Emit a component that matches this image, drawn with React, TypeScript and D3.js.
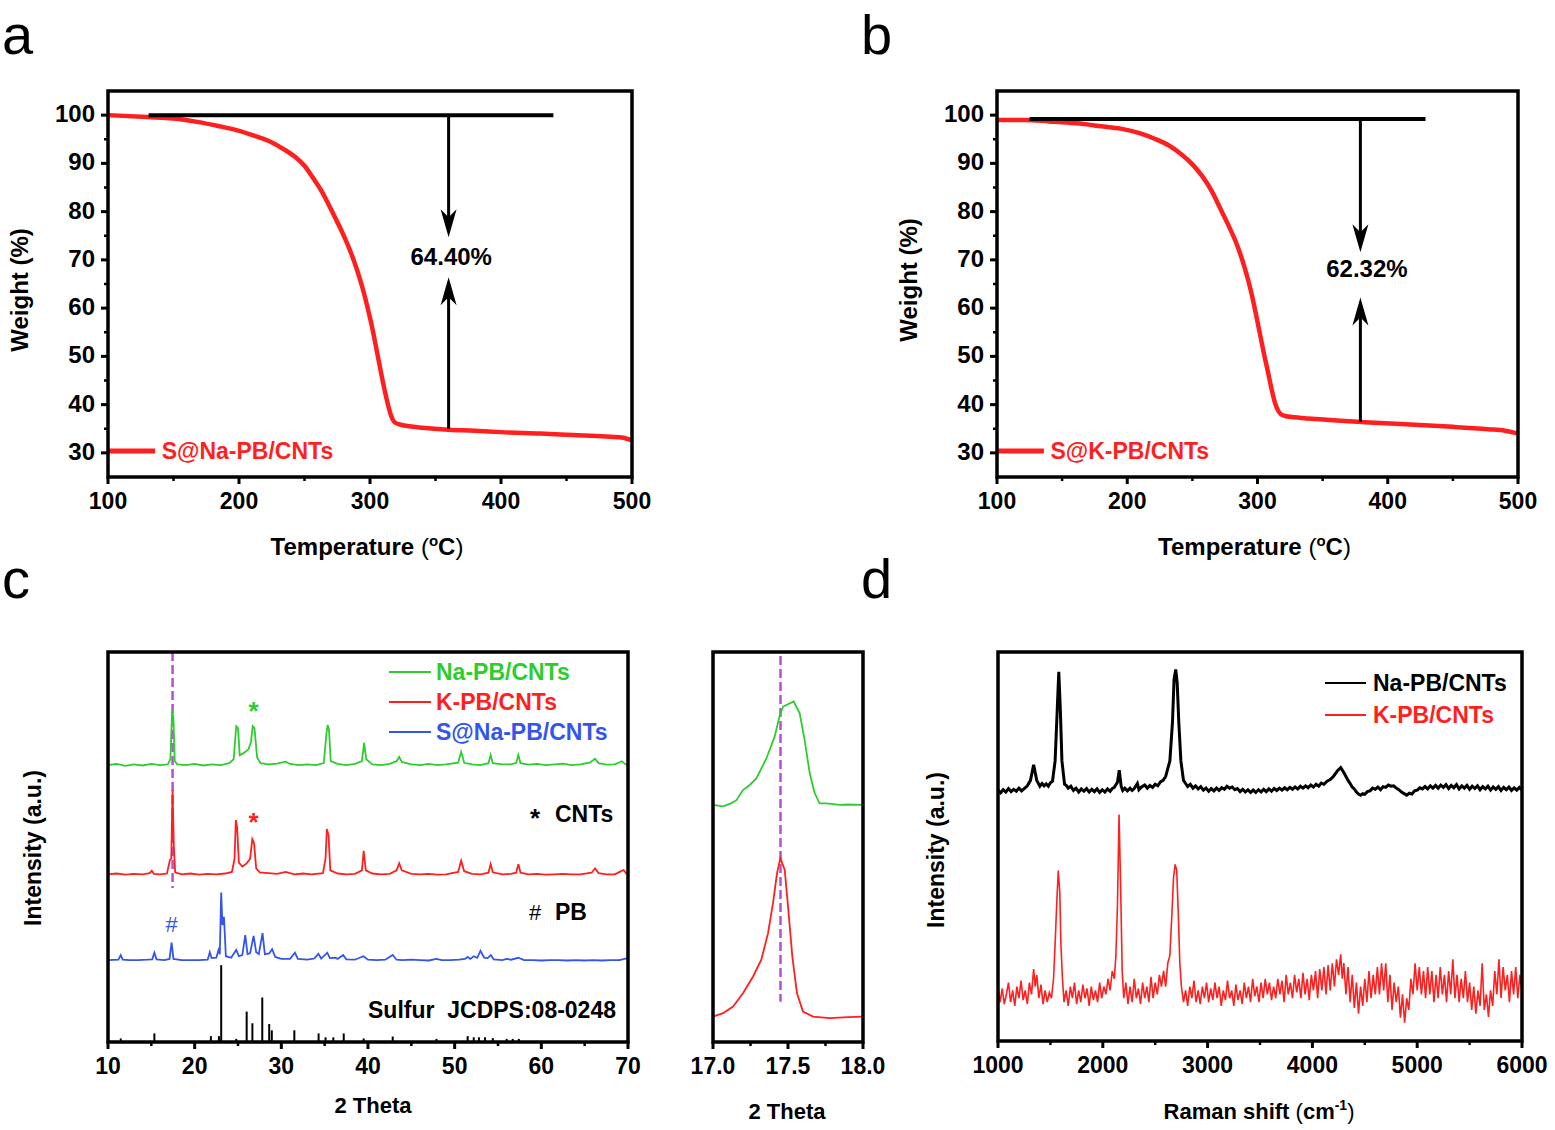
import React from "react";
import * as d3 from "d3";

// ---------- TGA (panels a, b) ----------
const tgaTempA = [100, 130, 150, 168, 185, 198, 212, 224, 235, 243, 250, 256, 264, 272, 279, 285, 290, 295, 298, 301, 304, 307, 310, 313, 316, 319, 324, 330, 340, 360, 380, 400, 430, 455, 480, 492, 500];
const tgaWeightA = [100, 99.6, 99.3, 98.6, 97.7, 96.9, 95.7, 94.5, 92.8, 91.3, 89.5, 87.2, 83.8, 79.5, 75.6, 71.8, 68, 63.5, 60.3, 56.8, 52.8, 48.6, 44.5, 40.8, 37.8, 36.3, 35.8, 35.5, 35.2, 34.8, 34.6, 34.3, 34, 33.7, 33.4, 33.2, 32.6];
const tgaTempB = [100, 121, 140, 161, 180, 195, 210, 221, 232, 241, 250, 258, 265, 271, 278, 284, 290, 295, 299, 302, 305, 308, 311, 313, 315, 318, 322, 328, 345, 361, 380, 394, 410, 428, 450, 477, 490, 500];
const tgaWeightB = [99, 99, 98.7, 98.3, 97.7, 97.2, 96.2, 95.1, 93.7, 92, 89.8, 87.2, 84.2, 80.9, 77, 73.3, 68.5, 63.5, 58.5, 54.5, 50.5, 46.8, 43, 40.8, 39.2, 38, 37.6, 37.4, 37, 36.7, 36.4, 36.2, 36, 35.75, 35.4, 34.9, 34.6, 34];
const tgaNames = ["S@Na-PB/CNTs", "S@K-PB/CNTs"];
const lossLabels = ["64.40%", "62.32%"];
// [refStart, refEnd, refLevel, arrowX, downTip, upFrom, upTip, labelX, labelY]
const lossMarkA = [131, 440, 100, 360, 74.7, 35, 66.4, 362, 70.5];
const lossMarkB = [125, 429, 99.2, 379, 71.6, 36.4, 62.2, 384, 68.1];
const tgaXTicks = [100, 200, 300, 400, 500];
const tgaXMinor = [150, 250, 350, 450];
const tgaYTicks = [30, 40, 50, 60, 70, 80, 90, 100];
const tgaYMinor = [35, 45, 55, 65, 75, 85, 95];

// ---------- XRD (panel c) ----------
const xrdGreen: [number, number][] = [[10,71],[11,71.3],[12,70.8],[13,71.2],[14,70.9],[15,71.3],[16,71],[16.9,71.2],[17.2,72.5],[17.4,85],[17.55,83],[17.7,72],[18,71.2],[19,71],[20,71.3],[21,70.9],[22,71.2],[23,71],[24,71.5],[24.5,72.5],[24.8,81],[25.0,80.5],[25.2,73.5],[25.6,74],[26.2,75],[26.5,77],[26.7,81],[26.9,80.5],[27.2,73],[27.6,71.5],[28.5,71.2],[29.5,71.4],[30.5,71.9],[31,71.3],[32,71],[33,71.2],[34,71],[34.9,71.5],[35.2,79],[35.35,81.3],[35.5,80],[35.7,72],[36.5,71.3],[37.5,71],[38.5,71.3],[39.3,72],[39.55,76.7],[39.8,72.5],[40.5,71.2],[41.5,71],[42.5,71.3],[43.3,72],[43.6,73.1],[43.9,71.8],[45,71.2],[46,71],[47,71.3],[48,71],[49,71.2],[50.4,71.6],[50.75,74.4],[51.1,71.6],[52,71.2],[53,71],[53.9,71.5],[54.15,73.6],[54.4,71.5],[55.5,71.2],[56.5,71.2],[57.1,71.6],[57.35,73.6],[57.6,71.5],[58.5,71.1],[59.5,71.3],[60.5,71],[61.5,71.2],[62.5,71.4],[63.5,71],[64.5,71.2],[65.6,71.6],[66.2,72.6],[66.6,71.5],[67.5,71.1],[68.5,71.2],[69.3,72],[69.7,71.2],[70,71]];
const xrdRed: [number, number][] = [[10,43],[11,43.2],[12,42.9],[13,43.1],[14,43],[14.8,43.3],[15.05,43.9],[15.3,43.1],[16,43],[16.8,43.2],[17.15,46.7],[17.3,47],[17.45,64.6],[17.6,50],[17.75,43.5],[18.5,43],[19.5,43.2],[20.5,42.9],[21.5,43.1],[22.5,43],[23.5,43.2],[24.3,43.6],[24.6,47],[24.75,56.9],[24.9,55],[25.1,46],[25.5,45],[26,45.8],[26.4,47],[26.65,52],[26.85,51],[27.1,44.5],[27.5,43.5],[28.5,43.3],[29.5,43.1],[30.5,43.6],[31.5,43],[32.5,43.2],[33.5,43],[34.8,43.3],[35.1,47],[35.25,54.6],[35.45,53],[35.65,44],[36.5,43.2],[37.5,43],[38.5,43.1],[39.3,44],[39.5,49],[39.75,44],[40.5,43.2],[41.5,43],[42.5,43.1],[43.3,44],[43.6,45.8],[43.9,44],[45,43.1],[46,43],[47,43.1],[48,42.9],[49,43],[50.4,43.6],[50.75,46.5],[51.1,43.8],[52,43.1],[53,43],[53.9,43.4],[54.15,45.6],[54.4,43.5],[55.5,43],[56.5,43.1],[57.1,43.4],[57.35,45.6],[57.6,43.4],[58.5,43],[59.5,43.1],[60.5,42.9],[61.5,43],[62.5,43.1],[63.5,43],[64.5,43],[65.8,43.4],[66.2,44.5],[66.6,43.3],[67.5,43],[68.5,43],[69.2,43.8],[69.5,44.1],[69.8,43.2],[70,43]];
const xrdBlue: [number, number][] = [[10,21],[11.2,21.1],[11.47,22.3],[11.7,21.1],[12.5,21],[13.5,21],[14.5,21.1],[15.1,21.2],[15.35,22.9],[15.6,21.2],[16.5,21],[17.1,21.3],[17.34,25.5],[17.55,21.3],[18.5,21],[19.5,21],[20.5,21],[21.5,21.1],[21.75,23],[21.95,21.5],[22.5,21.6],[22.75,23.6],[22.9,22.5],[23.06,38.3],[23.2,30],[23.38,32.1],[23.6,22],[24.2,21.6],[24.8,23.6],[25.1,22],[25.5,22.3],[25.84,27.4],[26.1,22.5],[26.4,22.8],[26.8,27.2],[27.1,23],[27.4,22.5],[27.83,27.9],[28.1,22.5],[28.6,22.7],[28.94,23.8],[29.3,21.8],[30,21.3],[31,21.3],[31.57,22.9],[31.9,21.3],[33,21.1],[33.8,21.4],[34.27,22.6],[34.6,21.4],[35.3,22.9],[35.6,21.5],[36.2,21.6],[36.5,21.3],[37.13,22.3],[37.5,21.2],[38.5,21.1],[39.47,22],[40,21.1],[41,21],[42,21.1],[42.85,22.3],[43.3,21.1],[44,21],[45,21.1],[46,21],[47,20.9],[47.9,21.3],[48.5,21],[49.5,21],[50.5,21.1],[51.2,21.3],[51.5,21.8],[51.8,21.3],[52.2,22],[52.6,21.6],[52.98,23.4],[53.4,21.6],[53.8,21.5],[54.17,22.3],[54.5,21.2],[55.5,21],[56,21.3],[56.5,21.1],[57.35,21.6],[58,21],[59,21],[60,20.9],[61,21],[62,21],[63,20.9],[64,21],[65,20.9],[66,21],[67,20.9],[68,21],[69,21],[69.6,21.3],[70,21.5]];
const sulfurPos = [11.47, 15.35, 21.87, 22.8, 23.06, 24.8, 26.0, 26.66, 27.8, 28.6, 28.9, 31.5, 34.3, 35.1, 36.0, 37.2, 39.5, 42.85, 47.9, 51.5, 52.2, 52.8, 53.5, 54.4, 56.0, 56.7, 57.4];
const sulfurInt = [0.9, 2.2, 1.5, 1.5, 19.7, 0.8, 7.8, 4.8, 11.4, 4.6, 3, 3, 2.2, 1.2, 1.2, 2.2, 0.9, 1.4, 0.8, 1.5, 1.2, 1.2, 1.2, 1, 0.8, 0.8, 0.8];
const xrdNames = ["Na-PB/CNTs", "K-PB/CNTs", "S@Na-PB/CNTs"];
const xrdTicks = [10, 20, 30, 40, 50, 60, 70];
const xrdMinor = [15, 25, 35, 45, 55, 65];
const refTheta = 17.45;

// inset (17-18 deg)
const insetGreen: [number, number][] = [[17.0,60.8],[17.067,60.4],[17.12,61.2],[17.156,62],[17.2,64.6],[17.245,65.9],[17.289,67.6],[17.356,72.7],[17.411,78.3],[17.445,83.8],[17.467,86],[17.538,87.3],[17.578,84.3],[17.611,77.4],[17.645,68.9],[17.678,63.8],[17.711,61.2],[17.756,61.2],[17.845,60.8],[17.9,60.9],[18.0,60.8]];
const insetRed: [number, number][] = [[17.0,6.5],[17.067,7.4],[17.134,9.1],[17.2,12.5],[17.267,16.8],[17.322,21.1],[17.367,27.9],[17.4,35.6],[17.427,43.3],[17.449,47.1],[17.478,44.2],[17.5,34.8],[17.529,21.9],[17.56,12.5],[17.6,7.8],[17.667,6.5],[17.778,6.1],[17.9,6.4],[18.0,6.5]];
const insetTicks = [17.0, 17.5, 18.0];
const insetMinor = [17.25, 17.75];

// ---------- Raman (panel d) ----------
const ramanBlack: [number, number][] = [[1000,64.5],[1025,63.8],[1050,64.6],[1075,64],[1100,64.9],[1125,64.1],[1150,64.7],[1175,64.2],[1200,65],[1225,64.3],[1250,64.9],[1280,65.6],[1310,67],[1340,71],[1370,67],[1400,65.5],[1420,66.2],[1440,65.6],[1460,66.1],[1480,65.5],[1500,66.4],[1520,66.8],[1545,72],[1565,85],[1580,94.9],[1595,85],[1610,72],[1635,66],[1655,65.6],[1670,65],[1695,65.5],[1720,64.4],[1745,65],[1770,64],[1795,64.8],[1820,64.2],[1845,64.9],[1870,64],[1895,64.7],[1920,64.1],[1945,64.8],[1970,63.9],[1995,64.6],[2020,64],[2045,64.8],[2070,64.2],[2090,64.9],[2110,65.2],[2140,66.5],[2157,69.6],[2175,65.5],[2190,64.4],[2210,65],[2235,64.3],[2260,65],[2280,64.4],[2300,64.9],[2330,66.2],[2345,64.6],[2370,65.3],[2400,65.8],[2425,65],[2450,65.7],[2475,65.2],[2500,66],[2525,65.6],[2550,66.6],[2575,67],[2600,68],[2640,72],[2665,82],[2680,93],[2696,95.5],[2710,92],[2725,82],[2745,72],[2770,67],[2790,66.2],[2810,65.4],[2835,66],[2860,65],[2885,65.6],[2910,64.8],[2935,65.4],[2960,64.5],[2985,65],[3010,64.2],[3035,64.9],[3060,64.3],[3085,65],[3110,64.4],[3135,65.1],[3160,64.7],[3185,65.5],[3210,65],[3235,65.3],[3260,64.6],[3285,64.9],[3310,64.1],[3335,64.7],[3360,64],[3385,64.6],[3410,63.9],[3435,64.5],[3460,63.9],[3485,64.6],[3510,64],[3535,64.7],[3560,64.1],[3585,64.8],[3610,64.2],[3635,64.9],[3660,64.4],[3685,65],[3710,64.5],[3735,65.1],[3760,64.6],[3785,65.2],[3810,64.7],[3835,65.3],[3860,64.8],[3885,65.5],[3910,65],[3935,65.6],[3960,65.1],[3985,65.8],[4010,65.3],[4035,66],[4060,65.5],[4085,66.3],[4110,66],[4140,66.8],[4170,67.2],[4200,68],[4240,69.5],[4270,70.3],[4300,69],[4320,68],[4340,67],[4360,66.2],[4380,65.3],[4400,64.8],[4420,64],[4440,63.5],[4460,63.2],[4480,63.6],[4500,63.4],[4525,64.1],[4550,64.3],[4575,65],[4600,64.7],[4625,65.3],[4650,64.6],[4675,65.4],[4700,65.2],[4725,65.8],[4750,65.5],[4775,65.6],[4800,65],[4825,64.6],[4850,64],[4875,63.6],[4900,63.2],[4925,63.7],[4950,63.5],[4975,64.3],[5000,64.5],[5025,65.1],[5050,64.8],[5075,65.4],[5100,64.8],[5125,65.6],[5150,65],[5175,65.7],[5200,65],[5225,65.8],[5250,65.2],[5275,65.9],[5300,64.9],[5325,65.7],[5350,65.1],[5375,65.9],[5400,64.8],[5425,65.6],[5450,65],[5475,65.7],[5500,64.7],[5525,65.5],[5550,64.9],[5575,65.6],[5600,64.6],[5625,65.4],[5650,64.8],[5675,65.5],[5700,64.5],[5725,65.3],[5750,64.7],[5775,65.4],[5800,64.4],[5825,65.2],[5850,64.6],[5875,65.3],[5900,64.4],[5925,65.1],[5950,64.5],[5975,65.2],[6000,64.5]];
const ramanRed: [number, number][] = [[1000,14],[1020,10],[1040,13.5],[1060,9.5],[1080,12],[1100,15],[1120,10],[1140,13],[1160,9],[1180,14],[1200,11],[1220,15.5],[1240,10.5],[1260,13],[1280,9.5],[1300,15],[1320,12],[1340,18.5],[1355,14],[1370,17],[1390,11],[1410,14.5],[1430,9.5],[1450,13],[1470,10],[1490,12.5],[1510,11],[1530,16],[1545,25],[1560,35],[1575,43.8],[1590,38],[1600,25],[1615,16],[1630,10],[1650,13],[1670,9],[1690,14],[1710,11],[1730,15],[1750,9.5],[1770,13],[1790,10],[1810,14.5],[1830,11],[1850,13.5],[1870,9],[1890,14],[1910,10.5],[1930,13],[1950,10],[1970,15],[1990,11],[2010,14],[2030,12],[2050,16],[2070,13],[2090,18],[2110,16],[2125,22],[2140,35],[2155,58.2],[2170,40],[2185,18],[2200,11],[2220,15],[2240,9.5],[2260,14],[2280,10],[2300,16],[2320,11],[2340,13.5],[2360,9.5],[2380,15],[2400,11],[2420,14],[2440,10],[2460,16.5],[2480,11],[2500,15],[2520,12],[2540,17],[2560,14],[2580,18],[2600,14],[2620,20],[2640,22],[2660,33],[2675,42],[2690,45.4],[2705,44],[2720,33],[2735,20],[2750,14],[2770,10],[2790,13],[2810,9],[2830,14],[2850,11],[2870,15.5],[2890,10],[2910,13],[2930,9.5],[2950,14],[2970,11],[2990,15],[3010,10],[3030,13.5],[3050,10.5],[3070,15],[3090,11],[3110,14],[3130,9],[3150,13],[3170,10.5],[3190,15.5],[3210,11],[3230,13],[3250,9],[3270,14.5],[3290,10.5],[3310,13],[3330,9.5],[3350,15],[3370,11],[3390,14],[3410,10],[3430,16],[3450,11.5],[3470,14],[3490,10],[3510,15],[3530,11],[3550,16],[3570,12],[3590,15],[3610,10.5],[3630,14],[3650,11],[3670,16],[3690,12],[3710,15.5],[3730,10],[3750,17],[3770,12],[3790,15],[3810,11],[3830,17],[3850,12.5],[3870,16],[3890,11],[3910,17.5],[3930,12],[3950,16],[3970,10.5],[3990,17],[4010,13],[4030,18],[4050,11],[4070,18.5],[4090,13],[4110,19],[4130,12],[4150,19.5],[4170,13],[4190,20],[4210,14],[4230,21],[4250,17],[4270,22.3],[4285,16],[4300,20],[4320,12],[4340,19],[4360,10],[4380,17],[4400,8.5],[4420,15],[4440,7],[4460,14],[4480,9],[4500,16],[4520,10],[4540,18],[4560,11],[4580,17],[4600,12],[4620,19],[4640,12],[4660,20],[4680,13],[4700,20],[4720,10],[4740,17],[4760,8],[4780,15],[4800,10],[4820,14],[4840,6],[4860,12],[4880,4.7],[4900,11],[4920,8],[4940,16],[4960,12],[4980,20],[5000,13],[5020,19],[5040,12],[5060,18],[5080,11],[5100,19],[5120,12],[5140,18],[5160,10],[5180,17],[5200,11],[5220,19],[5240,12],[5260,17],[5280,10],[5300,18],[5320,12],[5340,21],[5360,11],[5380,17],[5400,10],[5420,16],[5440,11],[5460,18],[5480,10],[5500,15],[5520,8],[5540,14],[5560,7],[5580,13],[5600,9],[5620,20],[5640,8],[5660,12],[5680,6.2],[5700,13],[5720,9],[5740,18],[5760,12],[5780,21],[5800,11],[5820,19],[5840,13],[5860,17],[5880,10],[5900,18],[5920,12],[5940,19],[5960,11],[5980,17],[6000,13]];
const ramanNames = ["Na-PB/CNTs", "K-PB/CNTs"];
const ramanTicks = [1000, 2000, 3000, 4000, 5000, 6000];
const ramanMinor = [1500, 2500, 3500, 4500, 5500];

const FONT = "'Liberation Sans', Arial, sans-serif";
const RED = "#ff1f1f";
const GREEN = "#2ecc2e";
const BLUE = "#3355ee";
const PURPLE = "#b54fd6";

type Scale = d3.ScaleLinear<number, number>;

function BottomAxis({ scale, y, major, minor, fmt }: { scale: Scale; y: number; major: number[]; minor: number[]; fmt: (v: number) => string }) {
  return (
    <g>
      {major.map((v) => (
        <g key={"M" + v}>
          <line x1={scale(v)} x2={scale(v)} y1={y} y2={y + 7} stroke="#000" strokeWidth={3} />
          <text x={scale(v)} y={y + 32} textAnchor="middle" fontSize={23} fontWeight="bold" fontFamily={FONT}>{fmt(v)}</text>
        </g>
      ))}
      {minor.map((v) => (
        <line key={"m" + v} x1={scale(v)} x2={scale(v)} y1={y} y2={y + 4} stroke="#000" strokeWidth={2.5} />
      ))}
    </g>
  );
}

function LeftAxis({ scale, x, major, minor }: { scale: Scale; x: number; major: number[]; minor: number[] }) {
  return (
    <g>
      {major.map((v) => (
        <g key={"M" + v}>
          <line x1={x - 7} x2={x} y1={scale(v)} y2={scale(v)} stroke="#000" strokeWidth={3} />
          <text x={x - 13} y={scale(v) + 7} textAnchor="end" fontSize={24} fontWeight="bold" fontFamily={FONT}>{v}</text>
        </g>
      ))}
      {minor.map((v) => (
        <line key={"m" + v} x1={x - 4} x2={x} y1={scale(v)} y2={scale(v)} stroke="#000" strokeWidth={2.5} />
      ))}
    </g>
  );
}

function arrowHead(cx: number, tip: number, dir: number) {
  const p = d3.path();
  p.moveTo(cx, tip);
  p.lineTo(cx - 8, tip - dir * 28);
  p.lineTo(cx, tip - dir * 20);
  p.lineTo(cx + 8, tip - dir * 28);
  p.closePath();
  return p.toString();
}

function TgaPanel({ left, right, temps, weights, mark, name, loss }: { left: number; right: number; temps: number[]; weights: number[]; mark: number[]; name: string; loss: string }) {
  const top = 91;
  const bottom = 477;
  const x = d3.scaleLinear().domain([100, 500]).range([left, right]);
  const y = d3.scaleLinear().domain([25, 105]).range([bottom, top]);
  const curve = d3
    .line<number>()
    .x((d) => x(d))
    .y((_, i) => y(weights[i]))
    .curve(d3.curveMonotoneX)(temps) || "";
  const [r0, r1, lvl, ax, downTip, upFrom, upTip, lx, ly] = mark;
  const cx = (left + right) / 2;
  return (
    <g>
      <path d={curve} fill="none" stroke={RED} strokeWidth={4.5} strokeLinejoin="round" />
      <line x1={x(r0)} x2={x(r1)} y1={y(lvl)} y2={y(lvl)} stroke="#000" strokeWidth={4} />
      <line x1={x(ax)} x2={x(ax)} y1={y(lvl)} y2={y(downTip) - 18} stroke="#000" strokeWidth={3} />
      <path d={arrowHead(x(ax), y(downTip), 1)} fill="#000" />
      <line x1={x(ax)} x2={x(ax)} y1={y(upFrom)} y2={y(upTip) + 18} stroke="#000" strokeWidth={3} />
      <path d={arrowHead(x(ax), y(upTip), -1)} fill="#000" />
      <text x={x(lx)} y={y(ly) + 8} textAnchor="middle" fontSize={24} fontWeight="bold" fontFamily={FONT}>{loss}</text>
      <line x1={x(100)} x2={x(136)} y1={y(30.4)} y2={y(30.4)} stroke={RED} strokeWidth={5} />
      <text x={x(141)} y={y(30.4) + 8} fontSize={23} fontWeight="bold" fontFamily={FONT} fill={RED}>{name}</text>
      <LeftAxis scale={y} x={left} major={tgaYTicks} minor={tgaYMinor} />
      <BottomAxis scale={x} y={bottom} major={tgaXTicks} minor={tgaXMinor} fmt={(v) => String(v)} />
      <rect x={left} y={top} width={right - left} height={bottom - top} fill="none" stroke="#000" strokeWidth={3.5} />
      <text transform={`translate(${left - 80},${left > 500 ? 280 : 290}) rotate(-90)`} textAnchor="middle" fontSize={24} fontWeight="bold" fontFamily={FONT}>Weight (%)</text>
      <text x={cx - 3} y={555} textAnchor="middle" fontSize={24} fontWeight="bold" fontFamily={FONT}>
        Temperature <tspan fontWeight="normal">(</tspan>
        <tspan fontSize={15} dy={-9}>o</tspan>
        <tspan dy={9}>C</tspan>
        <tspan fontWeight="normal">)</tspan>
      </text>
    </g>
  );
}

function pairLine(data: [number, number][], x: Scale, y: Scale) {
  return d3.line<[number, number]>().x((d) => x(d[0])).y((d) => y(d[1]))(data) || "";
}

function XrdPanel() {
  const left = 108, right = 628, top = 652, bottom = 1042;
  const x = d3.scaleLinear().domain([10, 70]).range([left, right]);
  const y = d3.scaleLinear().domain([0, 100]).range([bottom, top]);
  const colors = [GREEN, RED, BLUE];
  return (
    <g>
      <line x1={x(refTheta)} x2={x(refTheta)} y1={top} y2={y(39.5)} stroke={PURPLE} strokeWidth={2.5} strokeDasharray="9,4" />
      <path d={pairLine(xrdGreen, x, y)} fill="none" stroke={GREEN} strokeWidth={1.8} />
      <path d={pairLine(xrdRed, x, y)} fill="none" stroke={RED} strokeWidth={1.8} />
      <path d={pairLine(xrdBlue, x, y)} fill="none" stroke={BLUE} strokeWidth={1.8} />
      {sulfurPos.map((p, i) => (
        <line key={i} x1={x(p)} x2={x(p)} y1={y(0)} y2={y(sulfurInt[i])} stroke="#000" strokeWidth={2} />
      ))}
      {xrdNames.map((n, i) => (
        <g key={n}>
          <line x1={389} x2={431} y1={672 + i * 30} y2={672 + i * 30} stroke={colors[i]} strokeWidth={2} />
          <text x={436} y={680 + i * 30} fontSize={23} fontWeight="bold" fontFamily={FONT} fill={colors[i]}>{n}</text>
        </g>
      ))}
      <text x={x(26.8)} y={y(85.9) + 13} textAnchor="middle" fontSize={26} fontWeight="bold" fontFamily={FONT} fill={GREEN}>*</text>
      <text x={x(26.8)} y={y(57.4) + 13} textAnchor="middle" fontSize={26} fontWeight="bold" fontFamily={FONT} fill={RED}>*</text>
      <text x={x(17.34)} y={y(30.3) + 8} textAnchor="middle" fontSize={22} fontFamily={FONT} fill={BLUE}>#</text>
      <text x={530} y={y(58.5) + 13} fontSize={26} fontWeight="bold" fontFamily={FONT}>*</text>
      <text x={555} y={y(58.5) + 8} fontSize={23} fontWeight="bold" fontFamily={FONT}>CNTs</text>
      <text x={529} y={y(33.3) + 8} fontSize={22} fontFamily={FONT}>#</text>
      <text x={555} y={y(33.3) + 8} fontSize={23} fontWeight="bold" fontFamily={FONT}>PB</text>
      <text x={616} y={y(8.2) + 8} textAnchor="end" fontSize={23} fontWeight="bold" fontFamily={FONT} xmlSpace="preserve">Sulfur  JCDPS:08-0248</text>
      <BottomAxis scale={x} y={bottom} major={xrdTicks} minor={xrdMinor} fmt={(v) => String(v)} />
      <rect x={left} y={top} width={right - left} height={bottom - top} fill="none" stroke="#000" strokeWidth={3.5} />
      <text transform={`translate(41,848) rotate(-90)`} textAnchor="middle" fontSize={23} fontWeight="bold" fontFamily={FONT}>Intensity (a.u.)</text>
      <text x={(left + right) / 2 + 5} y={1113} textAnchor="middle" fontSize={22} fontWeight="bold" fontFamily={FONT}>2 Theta</text>
    </g>
  );
}

function InsetPanel() {
  const left = 713, right = 863, top = 652, bottom = 1042;
  const x = d3.scaleLinear().domain([17, 18]).range([left, right]);
  const y = d3.scaleLinear().domain([0, 100]).range([bottom, top]);
  return (
    <g>
      <line x1={x(refTheta)} x2={x(refTheta)} y1={top + 4} y2={y(10.3)} stroke={PURPLE} strokeWidth={2.5} strokeDasharray="9,4" />
      <path d={pairLine(insetGreen, x, y)} fill="none" stroke={GREEN} strokeWidth={1.8} />
      <path d={pairLine(insetRed, x, y)} fill="none" stroke={RED} strokeWidth={1.8} />
      <BottomAxis scale={x} y={bottom} major={insetTicks} minor={insetMinor} fmt={(v) => v.toFixed(1)} />
      <rect x={left} y={top} width={right - left} height={bottom - top} fill="none" stroke="#000" strokeWidth={3.5} />
      <text x={787} y={1119} textAnchor="middle" fontSize={22} fontWeight="bold" fontFamily={FONT}>2 Theta</text>
    </g>
  );
}

function RamanPanel() {
  const left = 998, right = 1522, top = 652, bottom = 1041;
  const x = d3.scaleLinear().domain([1000, 6000]).range([left, right]);
  const y = d3.scaleLinear().domain([0, 100]).range([bottom, top]);
  const colors = ["#000", RED];
  return (
    <g>
      <path d={pairLine(ramanRed, x, y)} fill="none" stroke={RED} strokeWidth={1.6} />
      <path d={pairLine(ramanBlack, x, y)} fill="none" stroke="#000" strokeWidth={3} />
      {ramanNames.map((n, i) => (
        <g key={n}>
          <line x1={1325} x2={1366} y1={683 + i * 32} y2={683 + i * 32} stroke={colors[i]} strokeWidth={2} />
          <text x={1373} y={691 + i * 32} fontSize={23} fontWeight="bold" fontFamily={FONT} fill={colors[i]}>{n}</text>
        </g>
      ))}
      <BottomAxis scale={x} y={bottom} major={ramanTicks} minor={ramanMinor} fmt={(v) => String(v)} />
      <rect x={left} y={top} width={right - left} height={bottom - top} fill="none" stroke="#000" strokeWidth={3.5} />
      <text transform={`translate(944,850) rotate(-90)`} textAnchor="middle" fontSize={23} fontWeight="bold" fontFamily={FONT}>Intensity (a.u.)</text>
      <text x={1259} y={1119} textAnchor="middle" fontSize={22} fontWeight="bold" fontFamily={FONT}>
        Raman shift <tspan fontWeight="normal">(</tspan>cm<tspan fontSize={14} dy={-9}>-1</tspan>
        <tspan dy={9} fontWeight="normal">)</tspan>
      </text>
    </g>
  );
}

export default function App() {
  return (
    <div style={{ position: "absolute", left: 0, top: 0 }}>
      <svg width={1555} height={1130} style={{ display: "block", background: "#fff" }}>
        <TgaPanel left={108} right={632} temps={tgaTempA} weights={tgaWeightA} mark={lossMarkA} name={tgaNames[0]} loss={lossLabels[0]} />
        <TgaPanel left={997} right={1518} temps={tgaTempB} weights={tgaWeightB} mark={lossMarkB} name={tgaNames[1]} loss={lossLabels[1]} />
        <XrdPanel />
        <InsetPanel />
        <RamanPanel />
        <text x={2} y={54} fontSize={56} fontFamily={FONT}>a</text>
        <text x={861} y={54} fontSize={56} fontFamily={FONT}>b</text>
        <text x={2} y={598} fontSize={56} fontFamily={FONT}>c</text>
        <text x={861} y={598} fontSize={56} fontFamily={FONT}>d</text>
      </svg>
    </div>
  );
}
